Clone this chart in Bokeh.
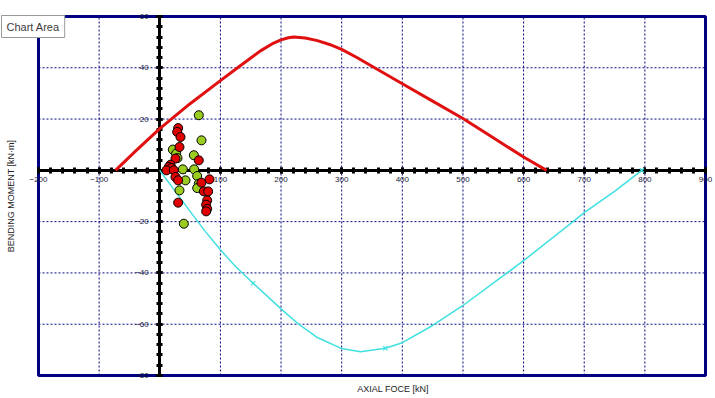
import math
from bokeh.plotting import figure
from bokeh.models import Range1d, SingleIntervalTicker, Label
from bokeh.embed import file_html
from bokeh.resources import INLINE

# axis ranges / ticks
X_MIN, X_MAX, X_STEP = -200, 900, 100
Y_MIN, Y_MAX, Y_STEP = -80, 60, 20

# red capacity envelope
env_x = [-73, -40, 0, 50, 100, 130, 166, 185, 200, 212, 221, 240, 260, 280, 300, 325, 350, 400, 450, 500, 550, 600, 638]
env_y = [0, 7.5, 16.3, 26.0, 35, 40.3, 46.6, 49.3, 50.9, 51.7, 52, 51.6, 50.6, 49.1, 47.2, 44.0, 40.6, 33.8, 27, 20.2, 12.7, 5.2, 0]

# cyan envelope
cy_x = [0, 25, 50, 75, 100, 125, 154, 200, 229, 260, 300, 331, 372, 400, 450, 500, 570, 600, 680, 700, 750, 795]
cy_y = [0, -8.0, -16.0, -23.8, -31.0, -37.5, -44, -54, -60, -65.2, -69.5, -70.7, -69.4, -67.2, -60.5, -52.7, -40.5, -35.2, -20.3, -16.5, -8.2, 0]
cy_mk_x = [154, 372, 795]
cy_mk_y = [-44, -69.4, 0]

# load points
green_x = [64.4, 68.8, 21.5, 27, 29.2, 56.2, 38, 56.7, 61.7, 42.4, 64.4, 61.7, 32.5, 39.7]
green_y = [21.5, 11.7, 8.1, 6.5, 4.8, 5.9, 0.4, 0.4, -2.2, -3.9, -5.2, -6.9, -7.8, -20.8]
red_x = [30.3, 28.7, 34.2, 32.5, 25.9, 64.4, 17.7, 14.9, 19.3, 11.1, 23.2, 25.9, 30.3, 68.8, 82, 72.7, 79.8, 30.3, 78.2, 76.5, 78.2, 76.5]
red_y = [16.5, 15, 13, 9.1, 4.6, 3.9, 2.2, 1.3, 0.9, 0, 0, -2.6, -3.9, -4.8, -3.5, -8.2, -8.2, -12.6, -11.7, -13.4, -15, -16]

NAVY = "#000080"
FONT = "Liberation Sans"

# canvas layout (pixels): the chart box sits inside the canvas with these margins
W, H = 715, 398
PAD_L, PAD_R, PAD_T, PAD_B = 38, 10, 16, 23
sx = (W - PAD_L - PAD_R) / (X_MAX - X_MIN)
sy = (H - PAD_T - PAD_B) / (Y_MAX - Y_MIN)

p = figure(width=W, height=H, output_backend="svg", toolbar_location=None,
           x_range=Range1d(X_MIN - PAD_L / sx, X_MAX + PAD_R / sx),
           y_range=Range1d(Y_MIN - PAD_B / sy, Y_MAX + PAD_T / sy),
           min_border_left=0, min_border_right=0, min_border_top=0, min_border_bottom=0)
p.background_fill_color = "white"
p.border_fill_color = "white"
p.outline_line_color = None
p.xgrid.visible = False
p.ygrid.visible = False

# dashed grid inside the chart box, at the major tick positions
gx = list(range(X_MIN + X_STEP, X_MAX, X_STEP))
gy = list(range(Y_MIN + Y_STEP, Y_MAX, Y_STEP))
p.segment(x0=gx, x1=gx, y0=[Y_MIN] * len(gx), y1=[Y_MAX] * len(gx),
          line_color=NAVY, line_dash="2 2", line_width=1, level="underlay")
p.segment(x0=[X_MIN] * len(gy), x1=[X_MAX] * len(gy), y0=gy, y1=gy,
          line_color=NAVY, line_dash="2 2", line_width=1, level="underlay")

# chart box border
p.quad(left=[X_MIN], right=[X_MAX], bottom=[Y_MIN], top=[Y_MAX],
       fill_color=None, line_color=NAVY, line_width=3)

# zero axes
p.xaxis.ticker = SingleIntervalTicker(interval=X_STEP, num_minor_ticks=5)
p.yaxis.ticker = SingleIntervalTicker(interval=Y_STEP, num_minor_ticks=5)
p.xaxis.bounds = (X_MIN, X_MAX)
p.yaxis.bounds = (Y_MIN, Y_MAX)
p.xaxis.major_label_overrides = {0: ""}
for ax in (p.xaxis, p.yaxis):
    ax.fixed_location = 0
    ax.axis_line_color = "black"
    ax.axis_line_width = 3
    ax.major_tick_line_color = "black"
    ax.major_tick_line_width = 3
    ax.major_tick_in = 3
    ax.major_tick_out = 3
    ax.minor_tick_line_color = "black"
    ax.minor_tick_line_width = 3
    ax.minor_tick_in = 3
    ax.minor_tick_out = 3
    ax.major_label_text_font = FONT
    ax.major_label_text_font_size = "8px"
    ax.major_label_text_color = "#1a1a3a"
p.xaxis.major_label_standoff = 4
p.yaxis.major_label_standoff = 8

# curves
p.line(env_x, env_y, line_color="#e01010", line_width=3, line_join="round", level="overlay")
p.line(cy_x, cy_y, line_color="#40e0e0", line_width=1.5, line_join="round", level="overlay")
p.scatter(cy_mk_x, cy_mk_y, marker="x", size=6, line_color="#40e0e0", line_width=1.2, level="overlay")

# points
p.scatter(green_x, green_y, marker="circle", size=9, fill_color="#9acd20", line_color="black", line_width=1, level="overlay")
p.scatter(red_x, red_y, marker="circle", size=9, fill_color="#e00000", line_color="black", line_width=1, level="overlay")

# axis titles
p.add_layout(Label(x=X_MIN, y=(Y_MIN + Y_MAX) / 2, x_offset=-28, angle=math.pi / 2,
                   text="BENDING MOMENT [kN·m]", text_align="center", text_baseline="middle",
                   text_font=FONT, text_font_size="9px", text_color="#222222"))
p.add_layout(Label(x=(X_MIN + X_MAX) / 2, y=Y_MIN, x_offset=21, y_offset=-13,
                   text="AXIAL FOCE [kN]", text_align="center", text_baseline="middle",
                   text_font=FONT, text_font_size="9px", text_color="#222222"))

# "Chart Area" tooltip (shadow + box)
p.add_layout(Label(x=X_MIN, y=Y_MAX, x_offset=-35, y_offset=-1, text="Chart Area",
                   text_align="left", text_baseline="top", text_font=FONT,
                   text_font_size="11px", text_alpha=0, padding=5,
                   background_fill_color="#a8a8a8", background_fill_alpha=0.6))
p.add_layout(Label(x=X_MIN, y=Y_MAX, x_offset=-37, y_offset=1, text="Chart Area",
                   text_align="left", text_baseline="top", text_font=FONT,
                   text_font_size="11px", text_color="#3c3c3c", padding=5,
                   background_fill_color="white", border_line_color="#9a9a9a", border_line_width=1))

open("out.html", "w").write(file_html(p, INLINE))
